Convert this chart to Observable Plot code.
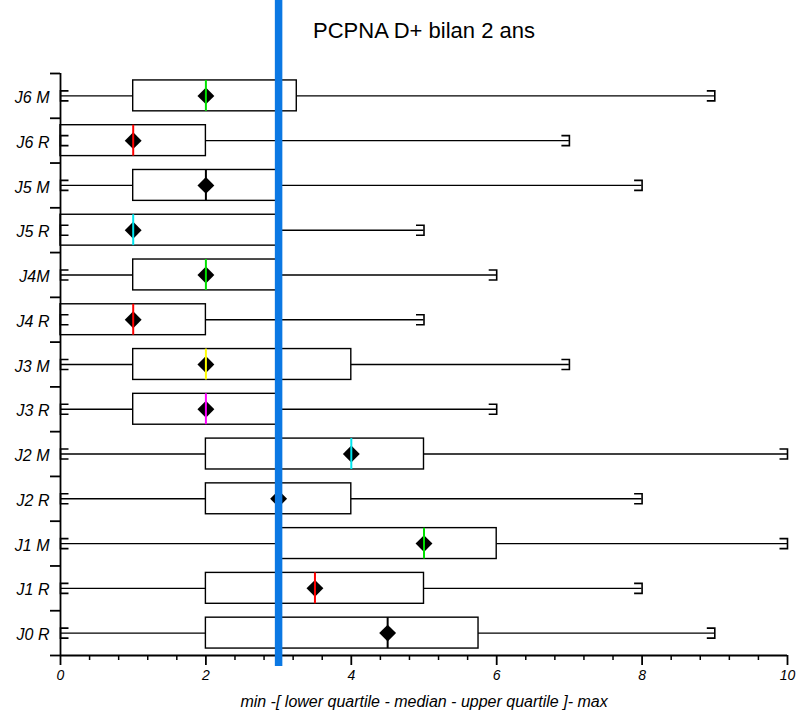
<!DOCTYPE html>
<html>
<head>
<meta charset="utf-8">
<script src="https://cdn.jsdelivr.net/npm/d3@7"></script>
<script src="https://cdn.jsdelivr.net/npm/@observablehq/plot@0.6"></script>
<style>
  html, body { margin: 0; padding: 0; background: #fff; }
</style>
</head>
<body>
<div id="chart"></div>
<script>
// ---- data (bottom row first) ----
const labels   = ["J0 R", "J1 R", "J1 M", "J2 R", "J2 M", "J3 R", "J3 M", "J4 R", "J4M", "J5 R", "J5 M", "J6 R", "J6 M"];
const minV     = [0, 0, 0, 0, 0, 0, 0, 0, 0, 0, 0, 0, 0];
const q1V      = [2, 2, 3, 2, 2, 1, 1, 0, 1, 0, 1, 0, 1];
const medV     = [4.5, 3.5, 5, 3, 4, 2, 2, 1, 2, 1, 2, 1, 2];
const q3V      = [5.75, 5, 6, 4, 5, 3, 4, 2, 3, 3, 3, 2, 3.25];
const maxV     = [9, 8, 10, 8, 10, 6, 7, 5, 6, 5, 8, 7, 9];
const meanV    = [4.5, 3.5, 5, 3, 4, 2, 2, 1, 2, 1, 2, 1, 2];
const medColor = ["#000000", "#ff0000", "#00e000", "#000000", "#00e5ee", "#ff00ff", "#ffff00", "#ff0000", "#00e000", "#00e5ee", "#000000", "#ff0000", "#00e000"];
const majorTicks = [0, 2, 4, 6, 8, 10];
const minorTicks = [0.4, 0.8, 1.2, 1.6, 2.4, 2.8, 3.2, 3.6, 4.4, 4.8, 5.2, 5.6, 6.4, 6.8, 7.2, 7.6, 8.4, 8.8, 9.2, 9.6];
const refValue = 3;
const title = "PCPNA D+ bilan 2 ans";
const xLabel = "min -[ lower quartile - median - upper quartile ]- max";

const rows = labels.map((label, i) => ({
  i, label, min: minV[i], q1: q1V[i], med: medV[i], q3: q3V[i], max: maxV[i], mean: meanV[i], color: medColor[i]
}));
const rowIdx = labels.map((_, i) => i);
const boundaries = labels.map((_, i) => i - 0.5).concat([labels.length - 0.5]);

const half = 0.345;
const font = "Liberation Sans, Arial, Helvetica, sans-serif";

const capRight = { draw(ctx) { ctx.moveTo(-8, -5); ctx.lineTo(0, -5); ctx.lineTo(0, 5); ctx.lineTo(-8, 5); } };
const capLeft  = { draw(ctx) { ctx.moveTo(8, -5); ctx.lineTo(0, -5); ctx.lineTo(0, 5); ctx.lineTo(8, 5); } };

const chart = Plot.plot({
  width: 802,
  height: 720,
  marginLeft: 60,
  marginRight: 15,
  marginTop: 73,
  marginBottom: 65,
  style: { fontFamily: font, background: "#fff", color: "#000" },
  x: { domain: [0, 10] },
  y: { domain: [-0.5, labels.length - 0.5] },
  marks: [
    // whiskers
    Plot.ruleY(rows, { y: "i", x1: "min", x2: "q1", stroke: "#000", strokeWidth: 1.4 }),
    Plot.ruleY(rows, { y: "i", x1: "q3", x2: "max", stroke: "#000", strokeWidth: 1.4 }),
    // boxes
    Plot.rect(rows, { x1: "q1", x2: "q3", y1: d => d.i - half, y2: d => d.i + half, fill: "#fff", stroke: "#000", strokeWidth: 1.4 }),
    // means
    Plot.dot(rows, { x: "mean", y: "i", symbol: "diamond2", r: 7.6, fill: "#000", stroke: "none" }),
    // medians
    Plot.ruleX(rows, { x: "med", y1: d => d.i - half, y2: d => d.i + half, stroke: "color", strokeWidth: 2 }),
    // caps
    Plot.dot(rows, { x: "max", y: "i", symbol: capRight, r: 5, fill: "none", stroke: "#000", strokeWidth: 1.6 }),
    Plot.dot(rows, { x: "min", y: "i", symbol: capLeft, r: 5, fill: "none", stroke: "#000", strokeWidth: 1.6 }),
    // axes lines
    Plot.ruleX([0], { stroke: "#000", strokeWidth: 1.8 }),
    Plot.ruleY([-0.5], { stroke: "#000", strokeWidth: 1.8 }),
    // y axis: boundary ticks and labels
    Plot.axisY({ ticks: boundaries, tickSize: 10, tickFormat: () => "", strokeWidth: 1.8, label: null }),
    Plot.axisY({ ticks: rowIdx, tickSize: 0, tickPadding: 11, tickFormat: i => labels[i], fontSize: 16, fontStyle: "italic", dy: 2, label: null }),
    // x axis
    Plot.axisX({ ticks: majorTicks, tickSize: 10, tickPadding: 5, fontSize: 14, fontStyle: "italic", strokeWidth: 1.8, label: null, tickFormat: d3.format("d") }),
    Plot.axisX({ ticks: minorTicks, tickSize: 5, tickFormat: () => "", strokeWidth: 1.5, label: null }),
    // texts
    Plot.text([title], { frameAnchor: "top", dy: -51, fontSize: 22, fill: "#000" }),
    Plot.text([xLabel], { frameAnchor: "bottom", dy: 51, fontSize: 16, fontStyle: "italic", fill: "#000" }),
    // reference line
    Plot.ruleX([refValue], { stroke: "#0b78e3", strokeWidth: 7.5, insetTop: -73, insetBottom: -11 })
  ]
});
document.getElementById("chart").appendChild(chart);
</script>
</body>
</html>
